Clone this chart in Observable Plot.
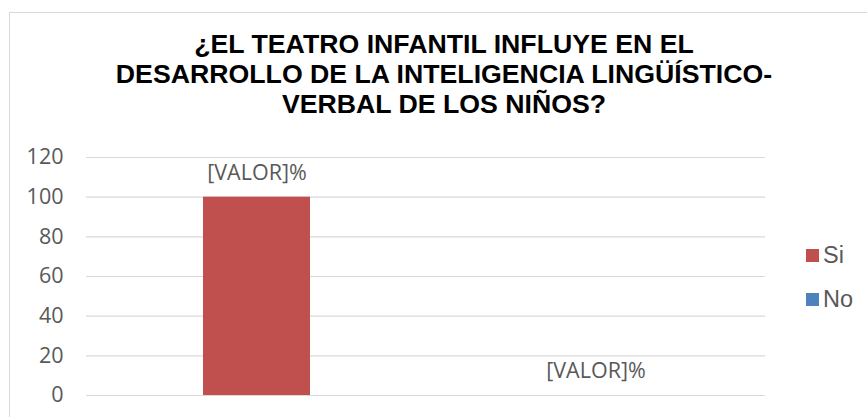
<!DOCTYPE html>
<html>
<head>
<meta charset="utf-8">
<script src="https://cdn.jsdelivr.net/npm/d3@7"></script>
<script src="https://cdn.jsdelivr.net/npm/@observablehq/plot@0.6"></script>
<style>
  html, body { margin: 0; padding: 0; background: #fff; overflow: hidden; }
  #root { position: relative; width: 867px; height: 417px; }
  #frame { position: absolute; left: 9px; top: 12px; width: 900px; height: 450px; border: 1px solid #d9d9d9; box-sizing: border-box; }
  #title { position: absolute; left: 0; top: 29px; width: 888px; text-align: center;
           font-family: "Liberation Sans", Arial, sans-serif; font-weight: bold; font-size: 26.7px;
           line-height: 30px; color: #000; }
  #chart { position: absolute; left: 0; top: 0; }
  #legend { position: absolute; left: 0; top: 0; }
</style>
</head>
<body>
<div id="root">
  <div id="frame"></div>
  <div id="chart"></div>
  <div id="title"></div>
  <svg id="legend" width="867" height="417"></svg>
</div>
<script>
const titleLines = ["¿EL TEATRO INFANTIL INFLUYE EN EL", "DESARROLLO DE LA INTELIGENCIA LINGÜÍSTICO-", "VERBAL DE LOS NIÑOS?"];
const categories = ["Si", "No"];
const values = [100, 0];
const labels = ["[VALOR]%", "[VALOR]%"];
const colors = ["#C0504D", "#4F81BD"];
const yTicks = [0, 20, 40, 60, 80, 100, 120];

const data = categories.map((c, i) => ({cat: c, value: values[i], label: labels[i]}));

document.getElementById("title").innerHTML = titleLines.join("<br>");

const chart = Plot.plot({
  width: 867,
  height: 417,
  marginTop: 157,
  marginBottom: 22,
  marginLeft: 86,
  marginRight: 102,
  style: {fontFamily: "'Open Sans', sans-serif", fontSize: "21.5px", color: "#595959", background: "transparent"},
  x: {domain: categories, paddingInner: 0.685, paddingOuter: 0.3425, axis: null},
  y: {domain: [0, 120], ticks: yTicks, tickSize: 0, tickPadding: 23, label: null},
  color: {domain: categories, range: colors},
  marks: [
    Plot.gridY(yTicks, {stroke: "#d9d9d9", strokeOpacity: 1, strokeWidth: 1.2}),
    Plot.barY(data, {x: "cat", y: "value", fill: "cat"}),
    Plot.text(data, {x: "cat", y: "value", text: "label", dy: -24, fill: "#595959", fontSize: 21.5}),
    Plot.axisY({ticks: yTicks, tickSize: 0, tickPadding: 23, fill: "#595959", fontSize: 21.5, label: null})
  ]
});
document.getElementById("chart").appendChild(chart);

// legend
const lg = d3.select("#legend");
categories.forEach((c, i) => {
  const y0 = 249 + i * 44;
  lg.append("rect").attr("x", 806).attr("y", y0).attr("width", 13).attr("height", 13).attr("fill", colors[i]);
  lg.append("text").attr("x", 823).attr("y", y0 + 14)
    .attr("font-family", "'Liberation Sans', Arial, sans-serif").attr("font-size", 23.5).attr("fill", "#595959")
    .text(c);
});
</script>
</body>
</html>
